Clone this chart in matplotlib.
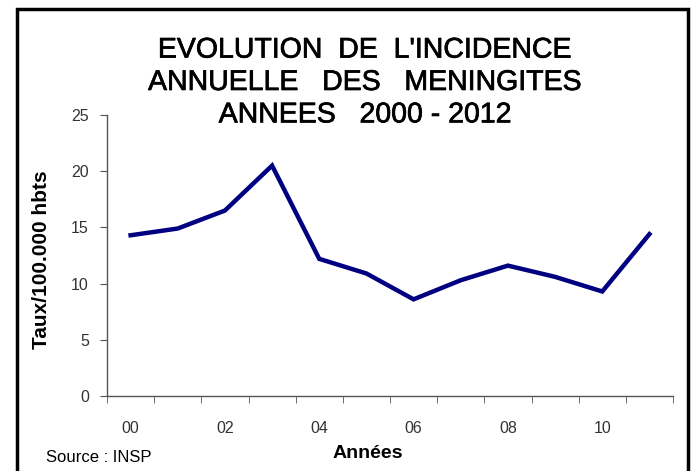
import numpy as np
import matplotlib
matplotlib.use('Agg')
import matplotlib.pyplot as plt
import matplotlib.patheffects as pe
from matplotlib.patches import Rectangle

# Data
annees = ['00', '01', '02', '03', '04', '05', '06', '07', '08', '09', '10', '11']
taux = [14.3, 14.9, 16.5, 20.5, 12.2, 10.9, 8.6, 10.3, 11.6, 10.6, 9.3, 14.4]
y_ticks = [0, 5, 10, 15, 20, 25]

arial = ['Liberation Sans', 'DejaVu Sans']

fig = plt.figure(figsize=(6.94, 4.71), dpi=100)
fig.patch.set_facecolor('white')

## Outer black frame (bottom edge runs off the picture)
fig.add_artist(Rectangle((17 / 694, -0.05), (688 - 17) / 694, 1.05 - 9 / 471,
                         transform=fig.transFigure, fill=False,
                         edgecolor='black', linewidth=2.5))

ax = fig.add_axes([107 / 694, 1 - 396 / 471, (673 - 107) / 694, (396 - 115) / 471])
x = np.arange(len(annees))
ax.plot(x, taux, color='#000080', linewidth=3.2, solid_joinstyle='miter')

ax.set_xlim(-0.5, len(annees) - 0.5)
ax.set_ylim(0, 25)
ax.set_yticks(y_ticks)
ax.set_yticklabels([str(v) for v in y_ticks], family=arial, fontsize=11.5, color='#333333')

## category labels every other year, tick marks on category boundaries
ax.set_xticks(x[::2])
ax.set_xticklabels(annees[::2], family=arial, fontsize=11.5, color='#333333')
ax.set_xticks(np.arange(-0.5, len(annees)), minor=True)
ax.tick_params(axis='x', which='major', length=0, pad=18)
ax.tick_params(axis='x', which='minor', length=5, direction='out', color='#555555')
ax.tick_params(axis='y', length=5, direction='out', color='#555555', pad=8)

for s in ['top', 'right']:
    ax.spines[s].set_visible(False)
for s in ['left', 'bottom']:
    ax.spines[s].set_color('#555555')
    ax.spines[s].set_linewidth(1)

fig.text(365 / 694, 1 - 83 / 471,
         "EVOLUTION  DE  L'INCIDENCE\nANNUELLE   DES   MENINGITES\nANNEES   2000 - 2012",
         ha='center', va='center', family=arial, fontsize=20.5, linespacing=1.32,
         path_effects=[pe.withStroke(linewidth=0.5, foreground='black')])

fig.text(42 / 694, 1 - 260 / 471, 'Taux/100.000 hbts', rotation=90,
         ha='center', va='center', family=arial, fontsize=15, fontweight='bold')
fig.text(368 / 694, 1 - 453 / 471, 'Années', ha='center', va='center',
         family=arial, fontsize=14, fontweight='bold')
fig.text(46 / 694, 1 - 457 / 471, 'Source : INSP', ha='left', va='center',
         family=arial, fontsize=12)

fig.savefig('out.png', dpi=100)
